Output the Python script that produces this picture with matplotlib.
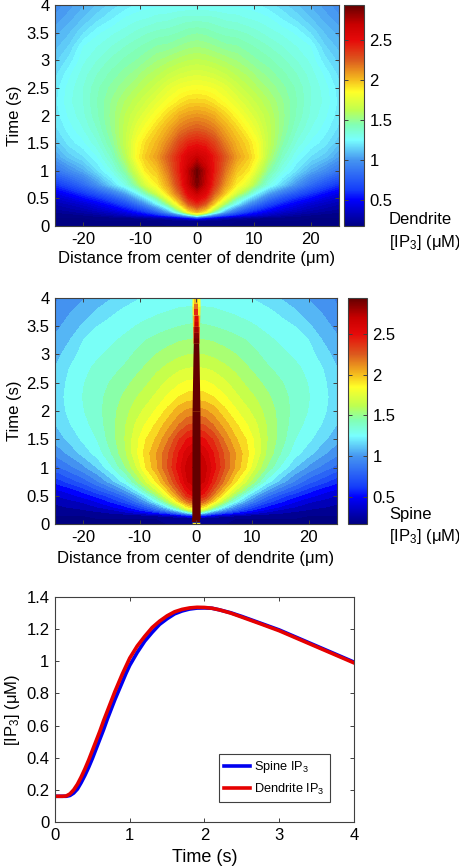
import numpy as np
import matplotlib
matplotlib.use("Agg")
import matplotlib.pyplot as plt
from matplotlib.cm import ScalarMappable
from matplotlib.colors import Normalize, LinearSegmentedColormap

plt.rcParams['font.family'] = ['Liberation Sans', 'DejaVu Sans']
plt.rcParams['mathtext.fontset'] = 'custom'
plt.rcParams['mathtext.rm'] = 'Liberation Sans'
plt.rcParams['mathtext.default'] = 'rm'
plt.rcParams['axes.unicode_minus'] = False

W, H = 460, 868

# values, positive side of x only (mirrored below)
field_x = [0, 1.5, 3, 5, 7, 9, 10.5, 12.5, 15, 17.5, 20, 22.5, 25]
field_t = [0, .1, .15, .2, .25, .3, .4, .5, .6, .75, 1, 1.25, 1.5, 1.75, 2, 2.25, 2.5, 2.75, 3, 3.25, 3.5, 3.75, 4]

dendrite = [
    [.17, .17, .17, .17, .17, .17, .17, .17, .17, .17, .17, .17, .17],
    [.20, .19, .18, .18, .17, .17, .17, .17, .17, .17, .17, .17, .17],
    [.70, .55, .42, .33, .28, .24, .22, .20, .19, .18, .17, .17, .17],
    [1.6, 1.25, .95, .70, .55, .46, .40, .34, .28, .24, .21, .19, .18],
    [2.0, 1.85, 1.4, 1.0, .75, .60, .52, .43, .35, .30, .26, .23, .21],
    [2.15, 2.0, 1.65, 1.18, .92, .72, .62, .52, .43, .36, .30, .27, .24],
    [2.4, 2.25, 1.95, 1.55, 1.22, .98, .84, .68, .55, .46, .38, .33, .29],
    [2.55, 2.42, 2.12, 1.8, 1.45, 1.2, 1.05, .86, .70, .58, .50, .42, .36],
    [2.7, 2.55, 2.25, 1.97, 1.7, 1.45, 1.25, 1.05, .88, .74, .62, .52, .44],
    [2.88, 2.68, 2.37, 2.08, 1.88, 1.72, 1.53, 1.32, 1.15, .98, .82, .70, .60],
    [2.92, 2.72, 2.45, 2.18, 1.98, 1.9, 1.72, 1.48, 1.3, 1.18, 1.05, .96, .86],
    [2.68, 2.6, 2.45, 2.25, 2.08, 1.97, 1.86, 1.6, 1.39, 1.26, 1.18, 1.12, 1.02],
    [2.45, 2.42, 2.32, 2.15, 2.02, 1.93, 1.83, 1.65, 1.46, 1.33, 1.25, 1.2, 1.11],
    [2.25, 2.22, 2.17, 2.05, 1.95, 1.84, 1.76, 1.64, 1.5, 1.38, 1.3, 1.24, 1.17],
    [2.1, 2.08, 2.04, 1.95, 1.85, 1.76, 1.7, 1.62, 1.51, 1.41, 1.33, 1.27, 1.2],
    [1.95, 1.94, 1.9, 1.83, 1.76, 1.69, 1.64, 1.58, 1.5, 1.42, 1.34, 1.29, 1.21],
    [1.83, 1.82, 1.8, 1.75, 1.68, 1.62, 1.58, 1.53, 1.47, 1.41, 1.34, 1.28, 1.2],
    [1.72, 1.71, 1.69, 1.65, 1.6, 1.56, 1.52, 1.48, 1.43, 1.38, 1.32, 1.25, 1.17],
    [1.62, 1.61, 1.59, 1.56, 1.53, 1.49, 1.46, 1.43, 1.39, 1.34, 1.29, 1.2, 1.13],
    [1.53, 1.52, 1.5, 1.47, 1.46, 1.43, 1.41, 1.38, 1.34, 1.3, 1.26, 1.15, 1.09],
    [1.45, 1.44, 1.42, 1.4, 1.39, 1.37, 1.35, 1.32, 1.29, 1.25, 1.18, 1.1, 1.05],
    [1.36, 1.36, 1.35, 1.33, 1.32, 1.3, 1.29, 1.27, 1.22, 1.17, 1.11, 1.05, 1.0],
    [1.26, 1.26, 1.26, 1.25, 1.25, 1.24, 1.23, 1.2, 1.16, 1.11, 1.06, 1.01, .96],
]

spine = [
    [.17, .17, .17, .17, .17, .17, .17, .17, .17, .17, .17, .17, .17],
    [.20, .19, .18, .18, .17, .17, .17, .17, .17, .17, .17, .17, .17],
    [.70, .55, .42, .33, .28, .24, .22, .20, .19, .18, .17, .17, .17],
    [1.55, 1.2, .92, .70, .55, .46, .40, .34, .28, .24, .21, .19, .18],
    [1.8, 1.65, 1.3, 1.0, .78, .62, .53, .44, .35, .30, .26, .23, .21],
    [2.0, 1.88, 1.6, 1.22, .95, .75, .64, .53, .44, .36, .30, .27, .24],
    [2.3, 2.2, 1.95, 1.58, 1.27, 1.02, .87, .70, .57, .47, .38, .33, .29],
    [2.5, 2.4, 2.15, 1.82, 1.5, 1.22, 1.05, .86, .7, .58, .49, .42, .36],
    [2.62, 2.52, 2.28, 1.98, 1.7, 1.45, 1.25, 1.04, .86, .73, .6, .5, .44],
    [2.72, 2.65, 2.42, 2.15, 1.9, 1.68, 1.5, 1.28, 1.08, .92, .78, .68, .58],
    [2.78, 2.7, 2.52, 2.28, 2.06, 1.88, 1.7, 1.5, 1.3, 1.13, 1.0, .9, .8],
    [2.7, 2.62, 2.47, 2.26, 2.08, 1.92, 1.78, 1.59, 1.41, 1.26, 1.16, 1.05, .96],
    [2.52, 2.47, 2.36, 2.16, 2.0, 1.88, 1.77, 1.61, 1.46, 1.32, 1.24, 1.15, 1.06],
    [2.3, 2.27, 2.18, 2.04, 1.91, 1.8, 1.72, 1.6, 1.47, 1.36, 1.28, 1.21, 1.12],
    [2.12, 2.1, 2.04, 1.92, 1.81, 1.72, 1.66, 1.57, 1.47, 1.38, 1.31, 1.24, 1.16],
    [1.94, 1.93, 1.89, 1.81, 1.72, 1.65, 1.6, 1.53, 1.45, 1.38, 1.32, 1.25, 1.17],
    [1.82, 1.81, 1.78, 1.72, 1.65, 1.58, 1.54, 1.48, 1.42, 1.37, 1.31, 1.24, 1.16],
    [1.71, 1.7, 1.68, 1.63, 1.58, 1.52, 1.48, 1.43, 1.38, 1.34, 1.29, 1.22, 1.13],
    [1.6, 1.6, 1.58, 1.55, 1.51, 1.47, 1.43, 1.38, 1.34, 1.3, 1.26, 1.17, 1.09],
    [1.52, 1.51, 1.5, 1.47, 1.44, 1.41, 1.38, 1.34, 1.3, 1.27, 1.22, 1.12, 1.05],
    [1.43, 1.42, 1.41, 1.39, 1.37, 1.34, 1.32, 1.29, 1.26, 1.22, 1.14, 1.07, 1.0],
    [1.35, 1.35, 1.34, 1.32, 1.3, 1.28, 1.27, 1.25, 1.2, 1.14, 1.08, 1.02, .95],
    [1.26, 1.26, 1.26, 1.25, 1.25, 1.23, 1.21, 1.17, 1.12, 1.07, 1.02, .97, .92],
]

# the narrow spine column in the middle panel
bar_t = [0, .03, .1, 1, 2, 3, 3.2, 3.3, 3.4, 3.5, 3.6, 3.7, 3.8, 3.9, 4]
bar_halfwidth = [.6, .74, .74, .72, .7, .53, .48, .45, .42, .4, .38, .36, .36, .36, .36]
bar_value = [1.9, 2.94, 2.94, 2.94, 2.94, 2.94, 2.9, 2.85, 2.78, 2.68, 2.56, 2.4, 2.2, 2.0, 1.85]
tip_t = [3.2, 3.5, 3.7, 3.85, 4]
tip_halfwidth = [.55, .62, .68, .72, .7]
tip_value = [2.2, 2.0, 1.9, 1.85, 1.75]

# colour scale
scale_values = [.17, .5, .62, 1.0, 1.25, 1.44, 1.62, 1.85, 2.0, 2.25, 2.5, 2.7, 2.94]
scale_colors = ['#000082', '#0000ff', '#143cfa', '#4696f0', '#78ffff', '#82ffb4', '#beff50', '#ffff28',
                '#f5be1e', '#dc5a1e', '#e60a0a', '#c80000', '#640000']

# line panel
time = [0, .1, .15, .2, .25, .3, .35, .4, .45, .5, .55, .6, .65, .7, .75, .8, .85, .9, .95, 1, 1.1, 1.2,
        1.3, 1.4, 1.5, 1.6, 1.7, 1.8, 1.9, 2, 2.1, 2.2, 2.35, 2.5, 2.75, 3, 3.25, 3.5, 3.75, 4]
spine_ip3 = [.16, .16, .16, .165, .18, .205, .245, .29, .34, .395, .455, .515, .575, .64, .70, .76, .815,
             .87, .925, .975, 1.055, 1.125, 1.18, 1.23, 1.265, 1.295, 1.313, 1.325, 1.331, 1.332, 1.33,
             1.32, 1.302, 1.279, 1.237, 1.195, 1.145, 1.095, 1.045, .995]
dendrite_ip3 = [.16, .16, .162, .175, .2, .235, .28, .33, .385, .445, .505, .565, .63, .69, .75, .81, .865,
                .92, .97, 1.02, 1.095, 1.155, 1.21, 1.25, 1.283, 1.308, 1.323, 1.332, 1.336, 1.335, 1.33,
                1.32, 1.3, 1.275, 1.233, 1.19, 1.14, 1.09, 1.04, .99]

cbar_ticks = [0.5, 1, 1.5, 2, 2.5]
cbar_labels = ['0.5', '1', '1.5', '2', '2.5']
map_xticks = [-20, -10, 0, 10, 20]
time_ticks = [0, 0.5, 1, 1.5, 2, 2.5, 3, 3.5, 4]
time_labels = ['0', '0.5', '1', '1.5', '2', '2.5', '3', '3.5', '4']

FS = 12
EDGE = '#404040'
VMIN, VMAX = scale_values[0], scale_values[-1]
cmap = LinearSegmentedColormap.from_list(
    'ip3', [((v - VMIN) / (VMAX - VMIN), c) for v, c in zip(scale_values, scale_colors)], N=512)


def axes_px(left, top, right, bottom):
    return fig.add_axes([left / W, 1 - bottom / H, (right - left) / W, (bottom - top) / H])


def style(ax):
    ax.tick_params(direction='in', top=True, right=True, length=3, width=0.7,
                   color=EDGE, labelsize=FS, pad=4)
    for s in ax.spines.values():
        s.set_color(EDGE)
        s.set_linewidth(0.8)


def heat_panel(box, cbox, table, levels, name, name_y, xpad):
    ax = axes_px(*box)
    norm = Normalize(VMIN, VMAX)
    half = np.array(table)
    z = np.hstack([half[:, :0:-1], half])
    x = np.concatenate([-np.array(field_x[:0:-1]), field_x])
    ax.contourf(x, field_t, z, levels=np.linspace(VMIN, VMAX, levels), cmap=cmap, norm=norm,
                antialiased=False, extend='both')
    ax.set_xlim(-25, 25)
    ax.set_ylim(0, 4)
    ax.set_xticks(map_xticks)
    ax.set_yticks(time_ticks, time_labels)
    ax.set_xlabel('Distance from center of dendrite (μm)', fontsize=FS, labelpad=xpad)
    ax.set_ylabel('Time (s)', fontsize=FS, labelpad=3)
    style(ax)

    cax = axes_px(*cbox)
    cb = fig.colorbar(ScalarMappable(norm=Normalize(VMIN, VMAX), cmap=cmap), cax=cax)
    cb.set_ticks(cbar_ticks, labels=cbar_labels)
    cb.outline.set_edgecolor(EDGE)
    cb.outline.set_linewidth(0.8)
    cax.tick_params(direction='in', left=True, right=True, length=3, width=0.7,
                    color=EDGE, labelsize=FS, pad=4)
    fig.text(389 / W, 1 - name_y / H, name, fontsize=FS, va='center')
    fig.text(389 / W, 1 - (name_y + 22) / H, '[IP$_3$] (μM)', fontsize=FS, va='center')
    return ax, norm


fig = plt.figure(figsize=(W / 100, H / 100), dpi=100)

heat_panel((55, 5, 339, 226), (344, 5, 364, 226), dendrite, 72, 'Dendrite', 220, 3.5)
ax2, norm2 = heat_panel((55, 298, 337, 524), (348, 298, 367, 524), spine, 30, 'Spine', 515, 5)

for seg_t, seg_w, seg_v in [(tip_t, tip_halfwidth, tip_value), (bar_t, bar_halfwidth, bar_value)]:
    for i in range(len(seg_t) - 1):
        hw = np.array(seg_w[i:i + 2])
        ax2.fill_betweenx(seg_t[i:i + 2], -hw, hw, color=cmap(norm2(seg_v[i])), linewidth=0, antialiased=False)

ax3 = axes_px(55, 597, 354, 822)
ax3.plot(time, spine_ip3, color='#0000f0', lw=2.6, label='Spine IP$_3$')
ax3.plot(time, dendrite_ip3, color='#e60000', lw=2.6, label='Dendrite IP$_3$')
ax3.set_xlim(0, 4)
ax3.set_ylim(0, 1.4)
ax3.set_xticks([0, 1, 2, 3, 4])
ax3.set_yticks([0, 0.2, 0.4, 0.6, 0.8, 1, 1.2, 1.4], ['0', '0.2', '0.4', '0.6', '0.8', '1', '1.2', '1.4'])
ax3.set_xlabel('Time (s)', fontsize=FS + 1, labelpad=5)
ax3.set_ylabel('[IP$_3$] (μM)', fontsize=FS, labelpad=3)
style(ax3)
leg = ax3.legend(loc='lower left', bbox_to_anchor=(164 / 299, 20 / 225), fontsize=9.2, fancybox=False,
                 framealpha=1, borderaxespad=0, handlelength=2.0, labelspacing=0.5,
                 handletextpad=0.35, borderpad=0.4)
leg.get_frame().set_edgecolor(EDGE)
leg.get_frame().set_linewidth(0.8)

fig.savefig('out.png', dpi=100)
